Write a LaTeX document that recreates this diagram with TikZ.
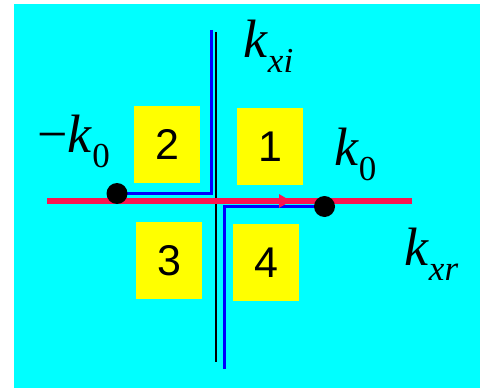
\documentclass[tikz,border=0pt]{standalone}
\usepackage{fontspec}
\setmainfont{Liberation Serif}
\newfontfamily\numfont{Liberation Sans}
\usetikzlibrary{arrows.meta}
\definecolor{cBack}{RGB}{0,255,255}
\definecolor{cBox}{RGB}{255,255,0}
\definecolor{cPath}{RGB}{0,0,255}
\definecolor{cReal}{RGB}{250,20,80}
\newcommand{\kvar}[1]{\textit{k}\raisebox{-15pt}{\fontsize{35}{35}\selectfont #1}}

\begin{document}
\begin{tikzpicture}[x=1pt,y=-1pt,
  quad/.style={fill=cBox,minimum width=66pt,minimum height=77pt,inner sep=0pt,
    font=\numfont\fontsize{43}{43}\selectfont},
  pole/.style={circle,fill=black,minimum size=21pt,inner sep=0pt},
  klabel/.style={anchor=base west,inner sep=0pt,font=\fontsize{54}{54}\selectfont},
  axisline/.style={draw=black,line width=2pt},
  contour/.style={draw=cPath,line width=3pt},
  realline/.style={draw=cReal,line width=5.5pt}]
 % ---- background ----
 \useasboundingbox (0,0) rectangle (481,390);
 \fill[cBack] (14,4) rectangle (480,388);
 % ---- quadrants ----
 \node[quad] (q2) at (167,144.5) {2};
 \node[quad] (q1) at (270,146.5) {1};
 \node[quad] (q3) at (169,260.5) {3};
 \node[quad] (q4) at (266,262.5) {4};
 % ---- axes and contour ----
 \coordinate (ytop) at (216,32);
 \coordinate (ybot) at (216,362);
 \coordinate (xleft) at (47,201);
 \coordinate (xright) at (412,201);
 \coordinate (arrowtip) at (291,201);
 \coordinate (pm) at (117,193.5);
 \coordinate (pk) at (324.5,206.5);
 \coordinate (ctop) at (211,30);
 \coordinate (cbot) at (224,369);
 \draw[axisline] (ytop) -- (ybot);
 \draw[contour] (ctop) |- (pm);
 \draw[contour] (cbot) |- (pk);
 \draw[realline] (xleft) -- (xright);
 \draw[realline,-{Triangle[length=12pt,width=13pt]}] (xleft) -- (arrowtip);
 \node[pole] (mkzero) at (pm) {};
 \node[pole] (kzero) at (pk) {};
 % ---- labels ----
 \node[klabel] (kxi) at (243,58) {\kvar{\textit{xi}}};
 \node[klabel] (mkzerolab) at (37,153) {−\kvar{0}};
 \node[klabel] (kzerolab) at (334,165) {\kvar{0}};
 \node[klabel] (kxr) at (404,265) {\kvar{\textit{xr}}};
\end{tikzpicture}
\end{document}
